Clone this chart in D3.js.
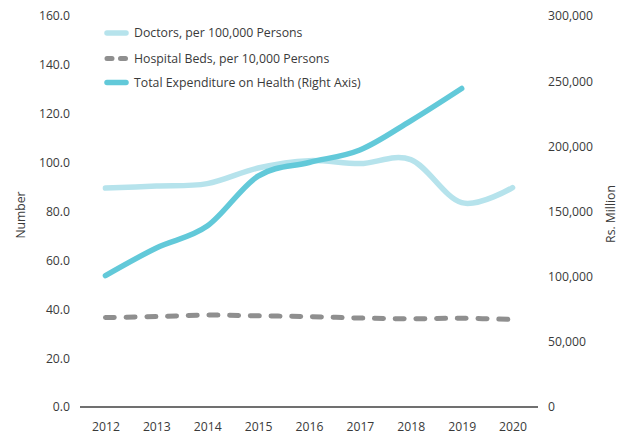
<!DOCTYPE html>
<html>
<head>
<meta charset="utf-8">
<script src="https://cdn.jsdelivr.net/npm/d3@7"></script>
<style>
  html, body { margin: 0; padding: 0; background: #fff; }
  svg { display: block; font-family: "Open Sans", "Noto Sans", sans-serif; }
</style>
</head>
<body>
<svg id="chart" width="627" height="437"></svg>
<script>
const years = ["2012","2013","2014","2015","2016","2017","2018","2019","2020"];
const doctors = [89.6, 90.4, 91.4, 97.8, 100.8, 99.6, 101.2, 83.6, 89.8];
const hospitalBeds = [36.6, 37.0, 37.6, 37.3, 37.0, 36.4, 36.1, 36.3, 35.8];
const expenditure = [100800, 122000, 138800, 177200, 187600, 197200, 219600, 244400, null];
const leftTicks = [0, 20, 40, 60, 80, 100, 120, 140, 160];
const rightTicks = [0, 50000, 100000, 150000, 200000, 250000, 300000];
const seriesNames = ["Doctors, per 100,000 Persons", "Hospital Beds, per 10,000 Persons", "Total Expenditure on Health (Right Axis)"];

const svg = d3.select("#chart");
const x = d3.scalePoint().domain(years).range([80, 538]).padding(0.5);
const yL = d3.scaleLinear().domain([0, 160]).range([407, 16]);
const yR = d3.scaleLinear().domain([0, 300000]).range([407, 16]);

const textColor = "#3a3a3a";

// left axis
const gL = svg.append("g").attr("transform", "translate(70,0)")
  .call(d3.axisLeft(yL).tickValues(leftTicks).tickFormat(d3.format(".1f")).tickSize(0).tickPadding(0));
gL.select(".domain").remove();
gL.selectAll("text").attr("font-size", 12.2).attr("fill", textColor).attr("font-family", "Open Sans");

// right axis
const gR = svg.append("g").attr("transform", "translate(548,0)")
  .call(d3.axisRight(yR).tickValues(rightTicks).tickFormat(d3.format(",")).tickSize(0).tickPadding(0));
gR.select(".domain").remove();
gR.selectAll("text").attr("font-size", 12.2).attr("fill", textColor).attr("font-family", "Open Sans");

// x axis
const gX = svg.append("g").attr("transform", "translate(0,407)")
  .call(d3.axisBottom(x).tickSize(0).tickPadding(15));
gX.select(".domain").attr("stroke", "#404040").attr("stroke-width", 1.5)
  .attr("d", "M80,0H538");
gX.selectAll("text").attr("font-size", 12.2).attr("fill", textColor).attr("font-family", "Open Sans");

// axis titles
svg.append("text").attr("transform", "translate(25,215) rotate(-90)")
  .attr("text-anchor", "middle").attr("font-size", 12.2).attr("fill", textColor).text("Number");
svg.append("text").attr("transform", "translate(615,214) rotate(-90)")
  .attr("text-anchor", "middle").attr("font-size", 12.2).attr("fill", textColor).text("Rs. Million");

const curve = d3.curveCardinal.tension(0);

const lineL = d3.line().defined(d => d[1] != null).x(d => x(d[0])).y(d => yL(d[1])).curve(curve);
const lineR = d3.line().defined(d => d[1] != null).x(d => x(d[0])).y(d => yR(d[1])).curve(curve);

const styles = [
  { color: "#b6e3ec", width: 5.5, dash: null },
  { color: "#8f8f8f", width: 5, dash: "9,11.7" },
  { color: "#62c9d9", width: 5.5, dash: null }
];

svg.append("path").datum(years.map((y, i) => [y, doctors[i]]))
  .attr("d", lineL).attr("fill", "none").attr("stroke", styles[0].color)
  .attr("stroke-width", styles[0].width).attr("stroke-linecap", "round");

svg.append("path").datum(years.map((y, i) => [y, hospitalBeds[i]]))
  .attr("d", lineL).attr("fill", "none").attr("stroke", styles[1].color)
  .attr("stroke-width", styles[1].width).attr("stroke-linecap", "round")
  .attr("stroke-dasharray", styles[1].dash);

svg.append("path").datum(years.map((y, i) => [y, expenditure[i]]))
  .attr("d", lineR).attr("fill", "none").attr("stroke", styles[2].color)
  .attr("stroke-width", styles[2].width).attr("stroke-linecap", "round");

// legend
const legendY = [33, 58.5, 82.5];
seriesNames.forEach((name, i) => {
  const g = svg.append("g").attr("transform", `translate(0,${legendY[i]})`);
  const ln = g.append("line").attr("x1", 107).attr("x2", 126).attr("y1", 0).attr("y2", 0)
    .attr("stroke", styles[i].color).attr("stroke-width", styles[i].width).attr("stroke-linecap", "round");
  if (styles[i].dash) ln.attr("stroke-dasharray", "5,8.5");
  g.append("text").attr("x", 134).attr("y", 0).attr("dy", "0.35em")
    .attr("font-size", 12.3).attr("fill", textColor).text(name);
});
</script>
</body>
</html>
